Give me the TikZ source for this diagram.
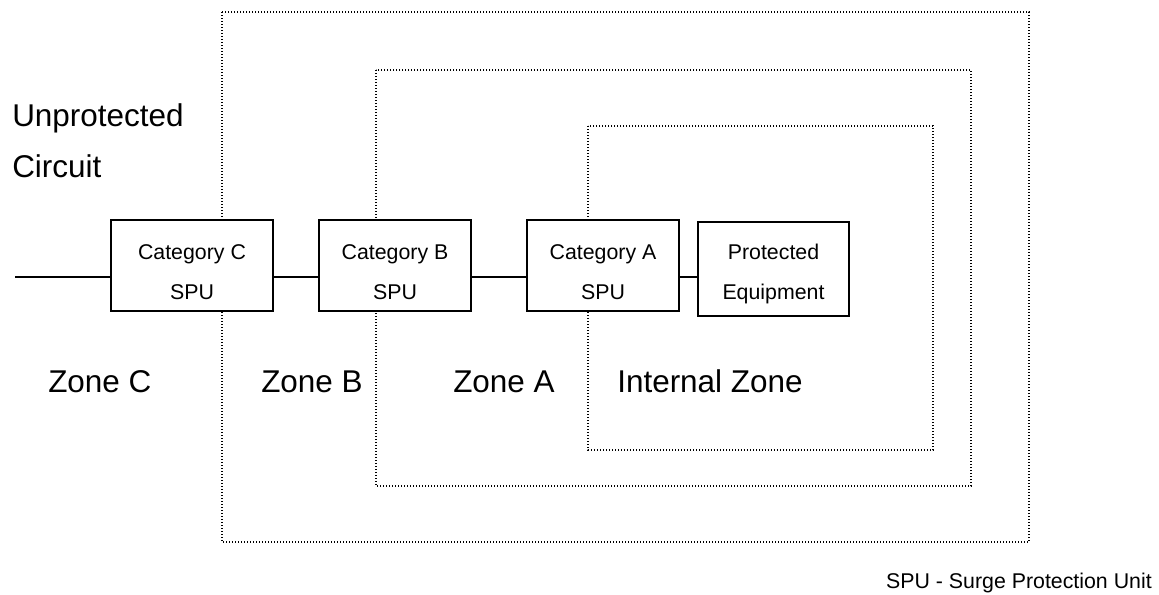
\documentclass[tikz,border=0pt]{standalone}
\usepackage{fontspec}
\setmainfont{Liberation Sans}
\begin{document}
\begin{tikzpicture}[x=0.75pt,y=-0.75pt,
  zone/.style={draw=black,line width=0.9pt,dash pattern=on 0.9pt off 1.35pt},
  unit/.style={draw=black,line width=1.5pt,fill=white,inner sep=0pt},
  wire/.style={draw=black,line width=1.5pt},
  small/.style={font=\fontsize{16}{30}\selectfont,align=center,inner sep=0pt},
  big/.style={font=\fontsize{23.6}{28}\selectfont,inner sep=0pt,anchor=base west},
  legend/.style={font=\fontsize{16}{20}\selectfont,inner sep=0pt,anchor=base east}]
\useasboundingbox (0,0) rectangle (1159,594);
% zones
\draw[zone] (222,12) rectangle (1029,542);
\draw[zone] (376,70) rectangle (971,486);
\draw[zone] (588,126) rectangle (933,450);
% units
\coordinate (start) at (15,277);
\node[unit,minimum width=162*0.75pt,minimum height=91*0.75pt] (C) at (192,265.5) {};
\node[unit,minimum width=152*0.75pt,minimum height=91*0.75pt] (B) at (395,265.5) {};
\node[unit,minimum width=152*0.75pt,minimum height=91*0.75pt] (A) at (603,265.5) {};
\node[unit,minimum width=151*0.75pt,minimum height=94*0.75pt] (P) at (773.5,269) {};
\node[small] (Ct) at (192,272) {Category C\\SPU};
\node[small] (Bt) at (395,272) {Category B\\SPU};
\node[small] (At) at (603,272) {Category A\\SPU};
\node[small] (Pt) at (773.5,274) {Protected\\Equipment};
% wires
\draw[wire] (start) -- (start -| C.west);
\draw[wire] (start -| C.east) -- (start -| B.west);
\draw[wire] (start -| B.east) -- (start -| A.west);
\draw[wire] (start -| A.east) -- (start -| P.west);
% labels
\node[big] (u1) at (12,126) {Unprotected};
\node[big] (u2) at (12,177) {Circuit};
\node[big] (zc) at (48,392) {Zone C};
\node[big] (zb) at (261,392) {Zone B};
\node[big] (za) at (453,392) {Zone A};
\node[big] (zi) at (617,392) {Internal Zone};
\node[legend] (lg) at (1152,588) {SPU - Surge Protection Unit};
\end{tikzpicture}
\end{document}
